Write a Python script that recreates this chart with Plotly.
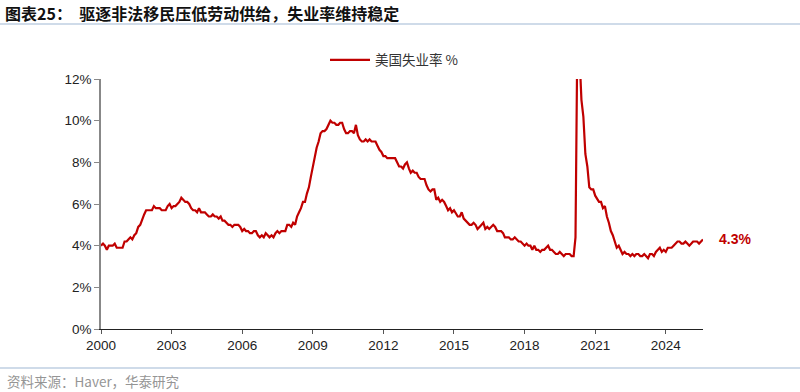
import pandas as pd
import plotly.graph_objects as go

# US unemployment rate, monthly, Jan 2000 - Aug 2025 (%)
rate_2000s = [
    4.0,4.1,4.0,3.8,4.0,4.0,4.0,4.1,3.9,3.9,3.9,3.9,
    4.2,4.2,4.3,4.4,4.3,4.5,4.6,4.9,5.0,5.3,5.5,5.7,
    5.7,5.7,5.7,5.9,5.8,5.8,5.8,5.7,5.7,5.7,5.9,6.0,
    5.8,5.9,5.9,6.0,6.1,6.3,6.2,6.1,6.1,6.0,5.8,5.7,
    5.7,5.6,5.8,5.6,5.6,5.6,5.5,5.4,5.4,5.5,5.4,5.4,
    5.3,5.4,5.2,5.2,5.1,5.0,5.0,4.9,5.0,5.0,5.0,4.9,
    4.7,4.8,4.7,4.7,4.6,4.6,4.7,4.7,4.5,4.4,4.5,4.4,
    4.6,4.5,4.4,4.5,4.4,4.6,4.7,4.6,4.7,4.7,4.7,5.0,
    5.0,4.9,5.1,5.0,5.4,5.6,5.8,6.1,6.1,6.5,6.8,7.3,
    7.8,8.3,8.7,9.0,9.4,9.5,9.5,9.6,9.8,10.0,9.9,9.9,
]
rate_2010s = [
    9.8,9.8,9.9,9.9,9.6,9.4,9.4,9.5,9.5,9.4,9.8,9.3,
    9.1,9.0,9.0,9.1,9.0,9.1,9.0,9.0,9.0,8.8,8.6,8.5,
    8.3,8.3,8.2,8.2,8.2,8.2,8.2,8.0,7.8,7.8,7.7,7.9,
    8.0,7.7,7.5,7.6,7.5,7.5,7.3,7.2,7.2,7.2,6.9,6.7,
    6.6,6.7,6.7,6.2,6.3,6.1,6.2,6.1,5.9,5.7,5.8,5.6,
    5.7,5.5,5.4,5.4,5.6,5.3,5.2,5.1,5.0,5.0,5.1,5.0,
    4.8,4.9,5.0,5.1,4.8,4.9,4.8,4.9,5.0,4.9,4.7,4.7,
    4.7,4.6,4.4,4.4,4.4,4.3,4.3,4.4,4.3,4.2,4.2,4.1,
    4.0,4.1,4.0,4.0,3.8,4.0,3.8,3.8,3.7,3.8,3.8,3.9,
    4.0,3.8,3.8,3.7,3.6,3.6,3.7,3.6,3.5,3.6,3.6,3.6,
]
rate_2020s = [
    3.5,3.5,4.4,14.8,13.2,11.0,10.2,8.4,7.8,6.8,6.7,6.7,
    6.4,6.2,6.1,6.1,5.8,5.9,5.4,5.1,4.7,4.5,4.2,3.9,
    4.0,3.8,3.6,3.7,3.6,3.6,3.5,3.6,3.5,3.6,3.6,3.5,
    3.5,3.6,3.5,3.4,3.6,3.6,3.5,3.7,3.8,3.9,3.7,3.8,
    3.7,3.9,3.9,3.9,4.0,4.1,4.2,4.2,4.1,4.1,4.2,4.1,
    4.0,4.1,4.2,4.2,4.2,4.1,4.2,4.3,
]
rate = rate_2000s + rate_2010s + rate_2020s
dates = pd.date_range("2000-01-01", periods=len(rate), freq="MS")

tick_years = [2000, 2003, 2006, 2009, 2012, 2015, 2018, 2021, 2024]
tick_labels = [str(y) for y in tick_years]
y_ticks = [0, 2, 4, 6, 8, 10, 12]
y_labels = [f"{v}%" for v in y_ticks]

series_name = "美国失业率 %"
title = "图表25：  驱逐非法移民压低劳动供给，失业率维持稳定"
source = "资料来源：Haver，华泰研究"

red = "#C00000"

W, H = 800, 392
L, R, T, B = 101, 97, 79, 63
PW, PH = W - L - R, H - T - B


def px_x(x):  # pixel -> paper x
    return (x - L) / PW


def px_y(y):  # pixel -> paper y
    return (H - B - y) / PH


fig = go.Figure()
fig.add_trace(go.Scatter(
    x=dates, y=rate, mode="lines", name=series_name,
    line=dict(color=red, width=2.2),
    showlegend=True,
))

fig.update_layout(
    width=W, height=H,
    margin=dict(l=L, r=R, t=T, b=B, autoexpand=False),
    paper_bgcolor="white", plot_bgcolor="white",
    font=dict(family="Liberation Sans, Arial", size=13.5, color="#222"),
    showlegend=True,
    legend=dict(
        orientation="h",
        xref="container", yref="container",
        x=(330 - 5) / W, xanchor="left", y=1 - 60 / H, yanchor="middle",
        font=dict(family="Noto Sans CJK SC", size=13.5, color="#333"),
        itemwidth=40, bgcolor="rgba(0,0,0,0)",
    ),
    xaxis=dict(
        type="date",
        range=[dates[0], dates[-1]],
        tickvals=[pd.Timestamp(f"{y}-01-01") for y in tick_years],
        ticktext=tick_labels,
        showgrid=False, zeroline=False,
        showline=True, linecolor="#222", linewidth=1,
        ticks="outside", ticklen=4, tickcolor="#555",
        tickfont=dict(size=13.5, color="#222"),
    ),
    yaxis=dict(
        range=[0, 12],
        tickvals=y_ticks, ticktext=y_labels,
        showgrid=False, zeroline=False,
        showline=True, linecolor="#888", linewidth=1.5,
        ticks="outside", ticklen=5, tickcolor="#888",
        tickfont=dict(size=13.5, color="#222"),
    ),
)

# last value label
fig.add_annotation(
    x=dates[-1], y=rate[-1], xref="x", yref="y",
    text=f"<b>{rate[-1]}%</b>", showarrow=False,
    xanchor="left", xshift=14, yanchor="middle",
    font=dict(family="Liberation Sans, Arial", size=14, color=red),
)
# title
fig.add_annotation(
    x=px_x(3), y=px_y(13), xref="paper", yref="paper",
    text=f"<b>{title}</b>", showarrow=False, xanchor="left", yanchor="middle",
    font=dict(family="Noto Sans CJK SC", size=16, color="#111"),
)
# source
fig.add_annotation(
    x=px_x(5), y=px_y(381), xref="paper", yref="paper",
    text=source, showarrow=False, xanchor="left", yanchor="middle",
    font=dict(family="Noto Sans CJK SC", size=13.5, color="#959595"),
)

# separator lines
for ypix in (24, 368):
    fig.add_shape(type="line", xref="paper", yref="paper",
                  x0=px_x(0), x1=px_x(W), y0=px_y(ypix), y1=px_y(ypix),
                  line=dict(color="#9FB8D4", width=1.2))

fig.write_html("out.html", config={"displayModeBar": False},
               post_script="document.body.style.margin='0';")
